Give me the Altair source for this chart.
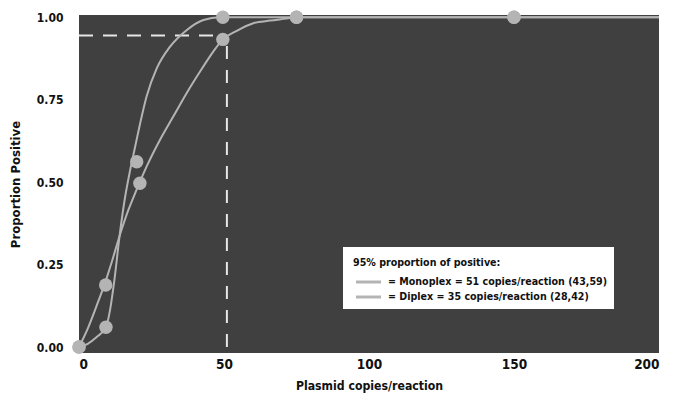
import altair as alt
import pandas as pd

FONT = "'Liberation Sans Narrow', 'DejaVu Sans Condensed', 'Roboto Condensed', sans-serif"

# observed data points (dots)
diplex_x = [0, 9.3, 19.9, 49.6, 75, 150]
diplex_y = [0, 0.06, 0.562, 1.0, 1.0, 1.0]
mono_x = [0, 9.2, 21.0, 49.6, 75, 150]
mono_y = [0, 0.188, 0.497, 0.933, 1.0, 1.0]

# fitted curves
diplex_curve_x = [0, 3, 6, 9.3, 10.7, 12.2, 14.1, 15.9, 17.6, 19.3, 21, 23.3, 26.8, 31.4, 37.1, 42.9, 48.6, 75, 200]
diplex_curve_y = [0, 0.01, 0.03, 0.06, 0.112, 0.203, 0.345, 0.455, 0.535, 0.605, 0.675, 0.76, 0.845, 0.911, 0.961, 0.992, 1.0, 1.0, 1.0]
mono_curve_x = [0, 3.2, 6.7, 9.2, 11.3, 14.1, 17, 19.9, 23.3, 27.9, 32.5, 37.1, 41.7, 46.3, 49.6, 54.4, 60.1, 65.9, 71.6, 75, 200]
mono_curve_y = [0, 0.06, 0.14, 0.2, 0.258, 0.34, 0.415, 0.478, 0.547, 0.628, 0.699, 0.77, 0.835, 0.896, 0.933, 0.959, 0.982, 0.99, 0.996, 1.0, 1.0]

# 95% cut-off
cutoff_x = [51]
cutoff_y = [0.945]

x_ticks = [0, 50, 100, 150, 200]
y_ticks = [0, 0.25, 0.5, 0.75, 1.0]

legend_title = ["95% proportion of positive:"]
legend_labels = ["= Monoplex = 51 copies/reaction (43,59)", "= Diplex = 35 copies/reaction (28,42)"]

LINE = "#b4b4b4"
DASH = "#e6e6e6"
LEG_FS = 10.6

xs = alt.Scale(domain=[0, 200], nice=False, zero=False)
ys = alt.Scale(domain=[-0.018, 1.007], nice=False, zero=False)

x_axis = alt.Axis(values=x_ticks, title="Plasmid copies/reaction", labelPadding=4, labelFontSize=13.5,
                  titleFontSize=12.2,
                  ticks=False, domain=False, grid=False, titleY=32, titleBaseline="middle")
y_axis = alt.Axis(values=y_ticks, format=".2f", title="Proportion Positive", labelPadding=16,
                  ticks=False, domain=False, grid=False, titleX=-64, titleY=169,
                  titleBaseline="middle", titleAlign="center", titleAngle=270)

dip_curve_df = pd.DataFrame({"x": diplex_curve_x, "y": diplex_curve_y})
mono_curve_df = pd.DataFrame({"x": mono_curve_x, "y": mono_curve_y})
dots_df = pd.DataFrame({"x": diplex_x + mono_x, "y": diplex_y + mono_y})
hline_df = pd.DataFrame({"x0": [0], "x1": cutoff_x, "y": cutoff_y})
vline_df = pd.DataFrame({"x": cutoff_x, "y0": [0], "y1": cutoff_y})

hline = alt.Chart(hline_df).mark_rule(color=DASH, strokeWidth=2, strokeDash=[14, 10]).encode(
    x=alt.X("x0:Q", scale=xs, axis=x_axis), x2="x1:Q", y=alt.Y("y:Q", scale=ys, axis=y_axis))
vline = alt.Chart(vline_df).mark_rule(color=DASH, strokeWidth=2, strokeDash=[13, 11]).encode(
    x=alt.X("x:Q", scale=xs), y=alt.Y("y0:Q", scale=ys), y2="y1:Q")

dip_line = alt.Chart(dip_curve_df).mark_line(color=LINE, strokeWidth=2, interpolate="monotone").encode(
    x=alt.X("x:Q", scale=xs), y=alt.Y("y:Q", scale=ys))
mono_line = alt.Chart(mono_curve_df).mark_line(color=LINE, strokeWidth=2, interpolate="monotone").encode(
    x=alt.X("x:Q", scale=xs), y=alt.Y("y:Q", scale=ys))
dots = alt.Chart(dots_df).mark_circle(color=LINE, size=180, opacity=1).encode(
    x=alt.X("x:Q", scale=xs), y=alt.Y("y:Q", scale=ys))

# legend box (annotation)
box = alt.Chart(pd.DataFrame({"a": [0]})).mark_rect(color="white").encode(
    x=alt.value(264), x2=alt.value(535), y=alt.value(232), y2=alt.value(294))
ltitle = alt.Chart(pd.DataFrame({"t": legend_title})).mark_text(
    align="left", baseline="middle", font=FONT, fontSize=LEG_FS, fontWeight="bold", color="#111").encode(
    x=alt.value(274), y=alt.value(248), text="t:N")
sw1 = alt.Chart(pd.DataFrame({"a": [0]})).mark_rule(color=LINE, strokeWidth=3).encode(
    x=alt.value(277), x2=alt.value(302), y=alt.value(267))
sw2 = alt.Chart(pd.DataFrame({"a": [0]})).mark_rule(color=LINE, strokeWidth=3).encode(
    x=alt.value(277), x2=alt.value(302), y=alt.value(282))
lab1 = alt.Chart(pd.DataFrame({"t": legend_labels[:1]})).mark_text(
    align="left", baseline="middle", font=FONT, fontSize=LEG_FS, fontWeight="bold", color="#111").encode(
    x=alt.value(309), y=alt.value(267), text="t:N")
lab2 = alt.Chart(pd.DataFrame({"t": legend_labels[1:]})).mark_text(
    align="left", baseline="middle", font=FONT, fontSize=LEG_FS, fontWeight="bold", color="#111").encode(
    x=alt.value(309), y=alt.value(282), text="t:N")

chart = alt.layer(hline, vline, dip_line, mono_line, dots, box, ltitle, sw1, sw2, lab1, lab2).properties(
    width=580, height=338,
    autosize=alt.AutoSizeParams(type="none"),
    padding={"left": 71, "top": 7, "right": 7, "bottom": 43},
).configure_view(fill="#404040", stroke=None).configure_axis(
    labelFont=FONT, titleFont=FONT, labelFontSize=12, titleFontSize=13,
    labelFontWeight="bold", titleFontWeight="bold", labelColor="#111", titleColor="#111"
)

chart.save("out.html", embed_options={"renderer": "svg", "actions": False})
